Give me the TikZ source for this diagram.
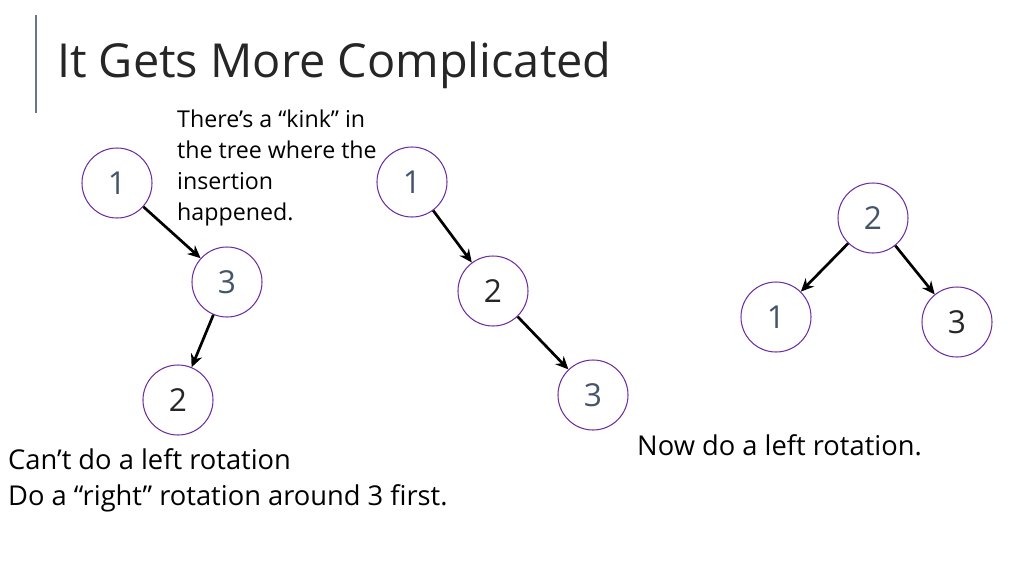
\documentclass[tikz,border=0pt]{standalone}
\usepackage{fontspec}
\setmainfont{Open Sans}
\usetikzlibrary{arrows.meta}
\definecolor{ring}{HTML}{7030A0}
\definecolor{numa}{HTML}{44546A}
\begin{document}
\begin{tikzpicture}[x=0.03cm,y=-0.03cm,
  tn/.style={circle,draw=ring,line width=0.9pt,minimum size=2.1cm,inner sep=0pt,font=\fontsize{27}{30}\selectfont},
  ed/.style={-{Stealth[length=11pt,width=10pt]},line width=2.3pt},
  lab/.style={font=\fontsize{23.3}{31}\selectfont,anchor=west,inner sep=0pt}]
\useasboundingbox (0,0) rectangle (1024,576);
\draw[color=numa!80,line width=1pt] (36,15) -- (36,113);
\node[anchor=base west,inner sep=0pt,font=\fontsize{40}{46}\selectfont,text=black!85] (title) at (57,77) {It Gets More Complicated};
\node[lab,anchor=north west,align=left,font=\fontsize{19.8}{26.3}\selectfont] (kink) at (177,110) {There’s a “kink” in\\the tree where the\\insertion\\happened.};
\node[tn,text=numa] (a1) at (117,183) {1};
\node[tn,text=numa] (a3) at (227,282) {3};
\node[tn,text=black!85] (a2) at (178,400) {2};
\draw[ed] (a1) -- (a3);
\draw[ed] (a3) -- (a2);
\node[tn,text=numa] (b1) at (412,182) {1};
\node[tn,text=black!85] (b2) at (493,291) {2};
\node[tn,text=numa] (b3) at (593,395) {3};
\draw[ed] (b1) -- (b2);
\draw[ed] (b2) -- (b3);
\node[tn,text=numa] (c2) at (873,218) {2};
\node[tn,text=numa] (c1) at (776,317) {1};
\node[tn,text=black!85] (c3) at (957,322) {3};
\draw[ed] (c2) -- (c1);
\draw[ed] (c2) -- (c3);
\node[lab,align=left,anchor=north west] (cant) at (8,448) {Can’t do a left rotation\\Do a “right” rotation around 3 first.};
\node[lab,anchor=north west] (now) at (637,434) {Now do a left rotation.};
\end{tikzpicture}
\end{document}
